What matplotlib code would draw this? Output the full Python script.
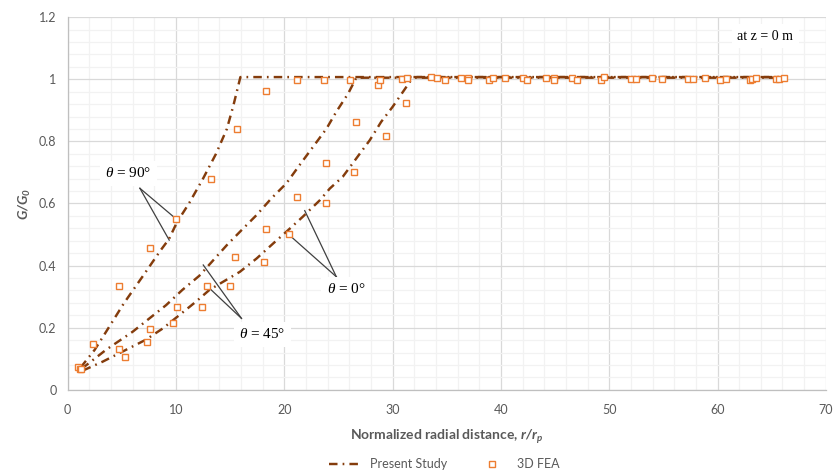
import numpy as np
import matplotlib.pyplot as plt
from matplotlib.lines import Line2D

plt.rcParams['font.family'] = ['Lato', 'DejaVu Sans']
plt.rcParams['mathtext.fontset'] = 'custom'
plt.rcParams['mathtext.rm'] = 'Liberation Serif'
plt.rcParams['mathtext.it'] = 'Liberation Serif:italic'
plt.rcParams['mathtext.bf'] = 'Lato:bold'
plt.rcParams['mathtext.bfit'] = 'Lato:bold:italic'

# Present Study curves (theta = 90, 45, 0 deg)
x90 = [1.2, 2.5, 3.55, 5.2, 6.9, 8.6, 9.35, 10.1, 11.2, 12.5, 13.7, 14.7, 15.3, 15.95, 66.0]
y90 = [0.072, 0.129, 0.187, 0.279, 0.364, 0.45, 0.485, 0.54, 0.6, 0.68, 0.76, 0.84, 0.915, 1.007, 1.007]

x45 = [1.3, 3.55, 6.0, 9.1, 10.6, 12.15, 14.7, 16.05, 17.45, 18.8, 20.2, 21.4, 22.65, 23.9, 24.8, 25.9, 26.65, 66.0]
y45 = [0.068, 0.129, 0.187, 0.273, 0.322, 0.367, 0.466, 0.514, 0.563, 0.616, 0.665, 0.723, 0.782, 0.841, 0.895, 0.954, 1.005, 1.005]

x0 = [1.4, 3.25, 7.2, 8.8, 11.85, 13.1, 15.9, 17.45, 19.0, 20.35, 21.7, 23.3, 24.2, 25.4, 26.65, 27.9, 28.95, 30.0, 30.95, 31.9, 66.0]
y0 = [0.062, 0.091, 0.161, 0.198, 0.284, 0.322, 0.38, 0.423, 0.472, 0.514, 0.557, 0.611, 0.648, 0.686, 0.745, 0.804, 0.863, 0.911, 0.959, 1.007, 1.007]

# 3D FEA results
fea90_x = [1.0, 2.32, 4.77, 7.6, 9.97, 13.2, 15.6, 18.36]
fea90_y = [0.073, 0.149, 0.335, 0.458, 0.549, 0.679, 0.841, 0.962]

fea45_x = [1.15, 4.77, 7.6, 10.06, 12.83, 15.44, 18.36, 21.18, 23.89, 26.59, 28.65]
fea45_y = [0.067, 0.133, 0.197, 0.268, 0.335, 0.427, 0.518, 0.62, 0.729, 0.861, 0.981]

fea0_x = [1.2, 5.33, 7.35, 9.72, 12.37, 14.98, 18.11, 20.44, 23.82, 26.4, 29.35, 31.2]
fea0_y = [0.066, 0.106, 0.155, 0.214, 0.268, 0.335, 0.413, 0.503, 0.602, 0.702, 0.817, 0.924]

fea_flat_x = [21.18, 23.64, 26.1, 28.8, 30.89, 31.35, 33.57, 34.09, 34.8, 36.34, 36.95, 36.95,
              38.87, 39.24, 40.41, 42.07, 42.38, 44.16, 44.86, 44.86, 46.61, 47.07, 49.23, 49.54,
              52.0, 52.46, 53.94, 54.92, 57.3, 57.75, 58.86, 60.21, 60.82, 62.97, 63.15, 63.52,
              65.37, 65.67, 66.1]
fea_flat_y = [0.997, 0.997, 0.997, 0.997, 1.0, 1.004, 1.006, 1.005, 0.997, 1.005, 1.005, 0.997,
              0.997, 1.005, 1.005, 1.005, 0.997, 1.005, 1.005, 0.997, 1.005, 0.997, 0.997, 1.007,
              1.0, 1.0, 1.005, 1.0, 1.0, 1.0, 1.005, 0.997, 1.0, 0.997, 1.002, 1.005,
              1.0, 1.002, 1.005]

line_color = '#843C0C'
fea_color = '#ED7D31'
text_gray = '#595959'

fig = plt.figure(figsize=(8.35, 4.76), dpi=100)
ax = fig.add_axes([0.081, 0.181, 0.908, 0.783])

dash = (0, (3.5, 2.1, 0.7, 2.1))
for xs, ys in [(x90, y90), (x45, y45), (x0, y0)]:
    ax.plot(xs, ys, color=line_color, lw=1.75, linestyle=dash, zorder=3)

for xs, ys in [(fea90_x, fea90_y), (fea45_x, fea45_y), (fea0_x, fea0_y), (fea_flat_x, fea_flat_y)]:
    ax.plot(xs, ys, linestyle='none', marker='s', markersize=4, markerfacecolor='white',
            markeredgecolor=fea_color, markeredgewidth=1, zorder=4)

ax.set_xlim(0, 70)
ax.set_ylim(0, 1.2)
ax.set_xticks(np.arange(0, 71, 10))
ax.set_yticks(np.arange(0, 1.21, 0.2))
ax.set_yticklabels(['0', '0.2', '0.4', '0.6', '0.8', '1', '1.2'])
ax.set_xticks(np.arange(0, 71, 2), minor=True)
ax.set_yticks(np.arange(0, 1.201, 0.04), minor=True)
ax.grid(which='major', color='#D9D9D9', lw=0.9)
ax.grid(which='minor', color='#F2F2F2', lw=0.9)
ax.set_axisbelow(True)
ax.tick_params(which='both', length=0, colors=text_gray, labelsize=9)
ax.tick_params(axis='x', pad=10)
ax.tick_params(axis='y', pad=8)
for s in ['top', 'right']:
    ax.spines[s].set_visible(False)
for s in ['left', 'bottom']:
    ax.spines[s].set_color('#BFBFBF')
    ax.spines[s].set_linewidth(0.9)

ax.set_xlabel('Normalized radial distance, $\\mathbfit{r/r_p}$', fontsize=10, fontweight='bold',
              color=text_gray, labelpad=8)
ax.set_ylabel('$\\mathbfit{G/G_0}$', fontsize=10, color=text_gray, labelpad=4)

box = dict(facecolor='white', edgecolor='none', pad=4)
ann = dict(color='#404040', lw=0.9)
ax.text(5.6, 0.697, '$\\theta$ = 90°', fontsize=11, family='Liberation Serif', ha='center', va='center', bbox=box)
ax.plot([6.67, 10.06], [0.649, 0.549], **ann)
ax.plot([6.67, 9.38], [0.649, 0.482], **ann)

ax.text(17.97, 0.179, '$\\theta$ = 45°', fontsize=11, family='Liberation Serif', ha='center', va='center', bbox=box)
ax.plot([16.05, 12.52], [0.23, 0.402], **ann)
ax.plot([16.05, 12.67], [0.23, 0.341], **ann)

ax.text(25.73, 0.324, '$\\theta$ = 0°', fontsize=11, family='Liberation Serif', ha='center', va='center', bbox=box)
ax.plot([24.81, 21.89], [0.364, 0.577], **ann)
ax.plot([24.81, 20.35], [0.364, 0.502], **ann)

ax.text(64.4, 1.138, 'at z = 0 m', fontsize=10, family='Liberation Serif', ha='center', va='center', bbox=box)

handles = [Line2D([], [], color=line_color, lw=1.75, linestyle=dash),
           Line2D([], [], linestyle='none', marker='s', markersize=4, markerfacecolor='white',
                  markeredgecolor=fea_color, markeredgewidth=1)]
fig.legend(handles, ['Present Study', '3D FEA'], loc='center', bbox_to_anchor=(0.532, 0.025),
           ncol=2, frameon=False, fontsize=9, labelcolor=text_gray, columnspacing=2.3,
           handlelength=2.5)

fig.savefig('out.png', dpi=100)
